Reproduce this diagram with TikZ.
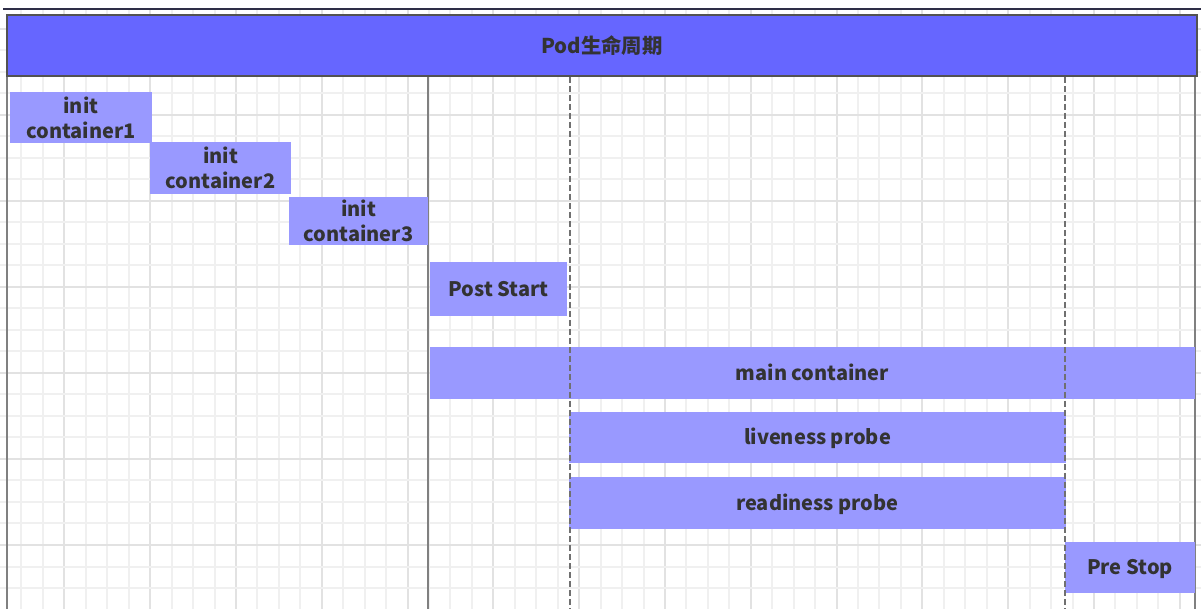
\documentclass[tikz,border=0pt]{standalone}
\usepackage{fontspec}
\setmainfont{Noto Sans CJK SC}
\definecolor{lavender}{HTML}{9999FF}
\definecolor{royal}{HTML}{6666FF}
\definecolor{ink}{HTML}{333333}
\definecolor{gridminor}{HTML}{F0F0F0}
\definecolor{gridmajor}{HTML}{E2E2E2}

\begin{document}
\begin{tikzpicture}[x=0.5pt, y=-0.5pt]

\useasboundingbox (0,0) rectangle (1201,609);
\fill[white] (0,0) rectangle (1201,609);

% grid
\foreach \k in {1,...,55}{
  \pgfmathtruncatemacro{\m}{mod(\k,4)}
  \ifnum\m=3 \def\gc{gridmajor}\else\def\gc{gridminor}\fi
  \draw[\gc, line width=1pt] (21.45*\k,9) -- (21.45*\k,609);
}
\foreach \k in {1,...,27}{
  \pgfmathtruncatemacro{\m}{mod(\k,4)}
  \ifnum\m=1 \def\gc{gridmajor}\else\def\gc{gridminor}\fi
  \draw[\gc, line width=1pt] (0,7.5+21.5*\k) -- (1201,7.5+21.5*\k);
}

\draw[color=ink!90!blue, line width=0.7pt] (3,9) -- (1201,9);

\tikzstyle{every node}=[rectangle, inner sep=0pt, text=ink, align=center,
                        font=\fontsize{10}{12.5}\selectfont\bfseries]
\tikzstyle{bar}=[fill=royal, draw=ink!85, line width=1.2pt,
                 font=\fontsize{10.2}{12.5}\selectfont\bfseries]
\tikzstyle{stage}=[fill=lavender, draw=none]
\tikzstyle{oneline}=[text height=0.9em, text depth=0.17em]

\node[bar, minimum width=595pt, minimum height=30.5pt] (pod) at (602,45.5) {Pod生命周期};

% phase dividers
\foreach \x in {7,428,1195}
  \draw[gray, line width=1pt] (\x,77) -- (\x,609);

\node[stage, minimum width=71pt,    minimum height=25.5pt] (init1) at (81,117.5)    {init\\container1};
\node[stage, minimum width=70.5pt,  minimum height=26pt]   (init2) at (220.5,168)   {init\\container2};
\node[stage, minimum width=69.5pt,  minimum height=24pt]   (init3) at (358.5,221)   {init\\container3};
\node[stage, oneline, minimum width=68.5pt,  minimum height=27pt]   (post)  at (498.5,289)   {Post Start};
\node[stage, oneline, minimum width=382.5pt, minimum height=26pt]   (main)  at (812.5,373)   {main container};
\node[stage, oneline, minimum width=248.5pt, minimum height=25.5pt] (live)  at (817.5,437.5) {liveness probe};
\node[stage, oneline, minimum width=248.5pt, minimum height=26pt]   (ready) at (817.5,503)   {readiness probe};
\node[stage, oneline, minimum width=65pt,    minimum height=25.5pt] (pre)   at (1130,567.5)  {Pre Stop};

\foreach \x in {570,1065}
  \draw[ink!70, line width=1pt, dash pattern=on 3pt off 1.5pt] (\x,77) -- (\x,609);

\end{tikzpicture}
\end{document}
